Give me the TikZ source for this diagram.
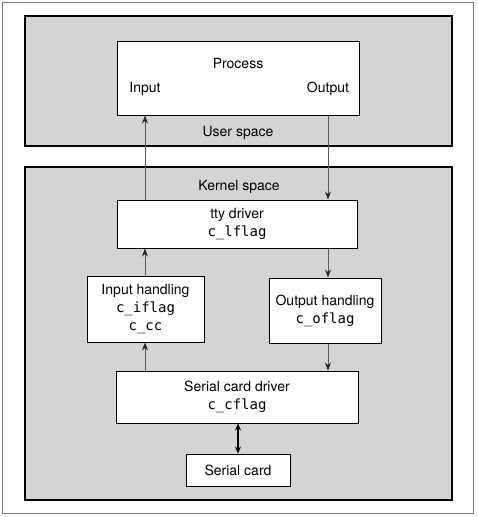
\documentclass[tikz,border=0pt]{standalone}
\usepackage{fontspec}
\setmainfont{TeX Gyre Heros}
\setmonofont{DejaVu Sans Mono}
\usetikzlibrary{arrows.meta}
\definecolor{regiongray}{RGB}{212,212,212}
\definecolor{linegray}{RGB}{90,90,90}
\definecolor{framegray}{RGB}{120,120,120}
\begin{document}
\begin{tikzpicture}[x=1pt,y=-1pt,
  font=\fontsize{14}{18}\selectfont,
  region/.style={draw=black,line width=1.3pt,fill=regiongray},
  box/.style={draw=black,line width=1pt,fill=white,inner sep=0pt,align=center},
  lbl/.style={inner sep=0pt,anchor=base},
  arr/.style={draw=linegray,line width=0.9pt,-{Stealth[length=8pt,width=6pt,color=black!85]}},
  darr/.style={draw=black,line width=1.1pt,{Stealth[length=7pt,width=6pt]}-{Stealth[length=7pt,width=6pt]}}]
\useasboundingbox (0,0) rectangle (477,517);
\draw[framegray,line width=0.8pt] (2.5,2.5) rectangle (473.5,513.5);
% regions
\draw[region] (25,16) rectangle (452,146);
\draw[region] (25,167) rectangle (452,500);
\node[lbl] (userlbl) at (238,136) {User space};
\node[lbl] (kernlbl) at (239,190) {Kernel space};
% process
\node[box,minimum width=242pt,minimum height=74pt] (proc) at (238,78) {};
\node[lbl] (proclbl) at (238,68) {Process};
\node[lbl] (inlbl) at (145,92) {Input};
\node[lbl] (outlbl) at (328,92) {Output};
% kernel boxes
\node[box,minimum width=240pt,minimum height=48pt] (tty) at (237,224) {tty driver\\\texttt{c\_lflag}};
\node[box,minimum width=117pt,minimum height=66pt] (inh) at (145.5,309) {Input handling\\\texttt{c\_iflag}\\\texttt{c\_cc}};
\node[box,minimum width=112pt,minimum height=65pt] (outh) at (325,310.5) {Output handling\\\texttt{c\_oflag}};
\node[box,minimum width=242pt,minimum height=52pt] (scd) at (237,397) {Serial card driver\\\texttt{c\_cflag}};
\node[box,minimum width=104pt,minimum height=32pt] (sc) at (238,470) {Serial card};
% connector columns
\coordinate (inx) at (145,0);
\coordinate (outx) at (328,0);
% input path (upwards)
\draw[arr] (scd.north -| inx) -- (inh.south -| inx);
\draw[arr] (inh.north -| inx) -- (tty.south -| inx);
\draw[arr] (tty.north -| inx) -- (proc.south -| inx);
% output path (downwards)
\draw[arr] (proc.south -| outx) -- (tty.north -| outx);
\draw[arr] (tty.south -| outx) -- (outh.north -| outx);
\draw[arr] (outh.south -| outx) -- (scd.north -| outx);
% serial link
\draw[darr] (scd.south -| sc.north) -- (sc.north);
\end{tikzpicture}
\end{document}
